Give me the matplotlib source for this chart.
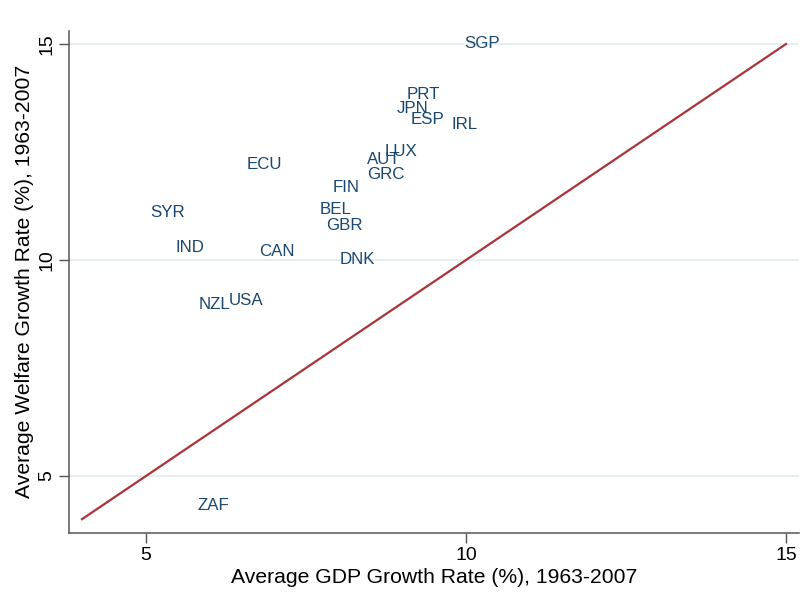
import numpy as np
import matplotlib.pyplot as plt

# country labels and (GDP growth, welfare growth)
countries = ["SGP", "PRT", "JPN", "ESP", "IRL", "LUX", "AUT", "GRC", "ECU", "FIN",
             "SYR", "BEL", "GBR", "IND", "CAN", "DNK", "NZL", "USA", "ZAF"]
gdp_growth = [9.97, 9.07, 8.91, 9.14, 9.78, 8.73, 8.45, 8.46, 6.57, 7.92,
              5.06, 7.72, 7.81, 5.46, 6.76, 8.03, 5.83, 6.29, 5.81]
welfare_growth = [15.02, 13.82, 13.51, 13.26, 13.14, 12.52, 12.33, 11.99, 12.20, 11.67,
                  11.09, 11.16, 10.79, 10.29, 10.19, 10.02, 8.96, 9.07, 4.32]

diag = [4, 15]
ticks = [5, 10, 15]

plt.rcParams['font.family'] = ['Liberation Sans', 'DejaVu Sans']

fig = plt.figure(figsize=(8.09, 6.11), dpi=100)
ax = fig.add_axes([69/809, 1-532.7/611, (799-69)/809, (532.7-30.7)/611])

ax.set_xlim(3.797, 15.203)
ax.set_ylim(3.687, 15.308)

for t in ticks:
    ax.axhline(t, color="#e4eef1", lw=1.3, zorder=0)

ax.plot(diag, diag, color="#ab3339", lw=1.6, zorder=2)

for c, x, y in zip(countries, gdp_growth, welfare_growth):
    ax.text(x, y, c, color="#1a476f", fontsize=12.2, ha="left", va="center", zorder=3)

ax.set_xticks(ticks)
ax.set_yticks(ticks)
ax.set_xticklabels([str(t) for t in ticks], fontsize=14)
ax.set_yticklabels([str(t) for t in ticks], fontsize=14, rotation=90, va="center")
ax.tick_params(length=7, width=1, color="#555555", pad=3)

for s in ["top", "right"]:
    ax.spines[s].set_visible(False)
for s in ["left", "bottom"]:
    ax.spines[s].set_color("#555555")
    ax.spines[s].set_linewidth(1.1)

ax.set_xlabel("Average GDP Growth Rate (%), 1963-2007", fontsize=15.2, labelpad=3)
ax.set_ylabel("Average Welfare Growth Rate (%), 1963-2007", fontsize=15.2, labelpad=3)

fig.savefig("out.png", dpi=100)
